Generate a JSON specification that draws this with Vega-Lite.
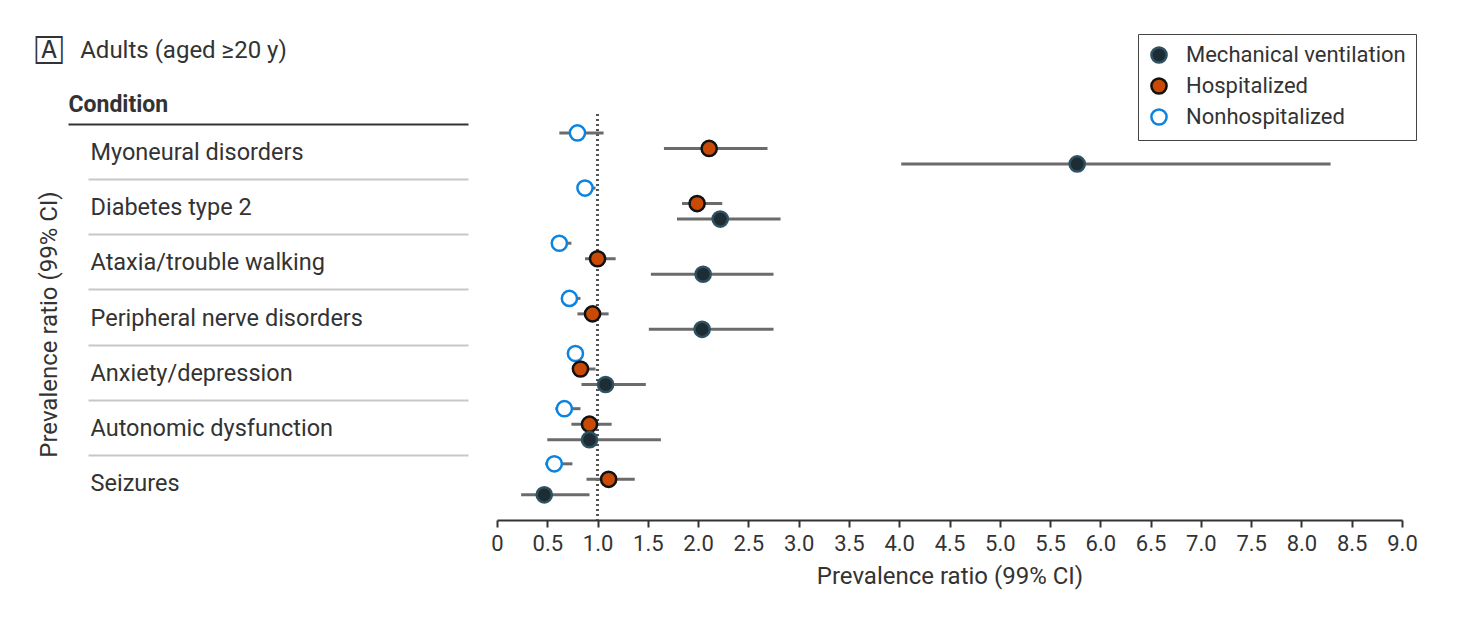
{
  "$schema": "https://vega.github.io/schema/vega-lite/v6.json",
  "autosize": {"type": "none"},
  "padding": {"left": 497, "top": 114, "right": 58, "bottom": 118},
  "width": 905,
  "height": 406,
  "title": {
    "text": "🄰\u2002 Adults (aged ≥20 y)",
    "anchor": "start",
    "frame": "group",
    "dx": -461,
    "dy": 33,
    "fontSize": 24,
    "fontWeight": "normal",
    "color": "#333333",
    "font": "Roboto"
  },
  "config": {
    "view": {"stroke": null},
    "font": "Roboto"
  },
  "data": {
    "values": [
      {"condition": "Myoneural disorders", "group": "Nonhospitalized", "est": 0.80, "lo": 0.62, "hi": 1.06},
      {"condition": "Myoneural disorders", "group": "Hospitalized", "est": 2.11, "lo": 1.66, "hi": 2.69},
      {"condition": "Myoneural disorders", "group": "Mechanical ventilation", "est": 5.77, "lo": 4.02, "hi": 8.29},
      {"condition": "Diabetes type 2", "group": "Nonhospitalized", "est": 0.875, "lo": 0.80, "hi": 0.98},
      {"condition": "Diabetes type 2", "group": "Hospitalized", "est": 1.99, "lo": 1.84, "hi": 2.24},
      {"condition": "Diabetes type 2", "group": "Mechanical ventilation", "est": 2.22, "lo": 1.79, "hi": 2.82},
      {"condition": "Ataxia/trouble walking", "group": "Nonhospitalized", "est": 0.62, "lo": 0.56, "hi": 0.74},
      {"condition": "Ataxia/trouble walking", "group": "Hospitalized", "est": 1.00, "lo": 0.875, "hi": 1.18},
      {"condition": "Ataxia/trouble walking", "group": "Mechanical ventilation", "est": 2.05, "lo": 1.53, "hi": 2.75},
      {"condition": "Peripheral nerve disorders", "group": "Nonhospitalized", "est": 0.72, "lo": 0.66, "hi": 0.83},
      {"condition": "Peripheral nerve disorders", "group": "Hospitalized", "est": 0.95, "lo": 0.80, "hi": 1.11},
      {"condition": "Peripheral nerve disorders", "group": "Mechanical ventilation", "est": 2.04, "lo": 1.51, "hi": 2.75},
      {"condition": "Anxiety/depression", "group": "Nonhospitalized", "est": 0.78, "lo": 0.72, "hi": 0.86},
      {"condition": "Anxiety/depression", "group": "Hospitalized", "est": 0.83, "lo": 0.76, "hi": 0.98},
      {"condition": "Anxiety/depression", "group": "Mechanical ventilation", "est": 1.08, "lo": 0.84, "hi": 1.48},
      {"condition": "Autonomic dysfunction", "group": "Nonhospitalized", "est": 0.67, "lo": 0.58, "hi": 0.83},
      {"condition": "Autonomic dysfunction", "group": "Hospitalized", "est": 0.92, "lo": 0.74, "hi": 1.14},
      {"condition": "Autonomic dysfunction", "group": "Mechanical ventilation", "est": 0.92, "lo": 0.50, "hi": 1.63},
      {"condition": "Seizures", "group": "Nonhospitalized", "est": 0.57, "lo": 0.48, "hi": 0.75},
      {"condition": "Seizures", "group": "Hospitalized", "est": 1.11, "lo": 0.89, "hi": 1.37},
      {"condition": "Seizures", "group": "Mechanical ventilation", "est": 0.47, "lo": 0.24, "hi": 0.92}
    ]
  },
  "resolve": {"scale": {"x": "shared"}, "axis": {"x": "independent"}},
  "layer": [
    {
      "mark": {"type": "rule", "strokeDash": [2, 3], "color": "#555555", "strokeWidth": 1.5},
      "encoding": {
        "x": {
          "datum": 1,
          "type": "quantitative",
          "scale": {"domain": [0, 9], "nice": false, "zero": false},
          "axis": {
            "orient": "top", "domain": false, "ticks": false, "labels": false, "grid": false,
            "title": "Condition", "titleX": -429, "titleY": -10, "titleAlign": "left",
            "titleBaseline": "middle", "titleAngle": 0, "titleFontWeight": "bold",
            "titleFontSize": 23, "titleColor": "#333333", "titleFont": "Roboto"
          }
        }
      }
    },
    {
      "mark": {"type": "rule", "color": "#6b6b6b", "strokeWidth": 3},
      "encoding": {
        "x": {
          "field": "lo", "type": "quantitative",
          "scale": {"domain": [0, 9], "nice": false, "zero": false},
          "axis": {
            "orient": "bottom",
            "values": [0, 0.5, 1, 1.5, 2, 2.5, 3, 3.5, 4, 4.5, 5, 5.5, 6, 6.5, 7, 7.5, 8, 8.5, 9],
            "labelExpr": "datum.value === 0 ? '0' : format(datum.value, '.1f')",
            "labelFlush": false, "labelOverlap": false,
            "grid": false, "domainColor": "#333333", "domainWidth": 2,
            "tickColor": "#333333", "tickWidth": 2, "tickSize": 7,
            "labelFontSize": 22, "labelColor": "#333333", "labelPadding": 6, "labelFont": "Roboto",
            "title": "Prevalence ratio (99% CI)", "titleFontSize": 24, "titleFontWeight": "normal",
            "titleColor": "#333333", "titlePadding": 10, "titleFont": "Roboto"
          }
        },
        "x2": {"field": "hi"},
        "y": {
          "field": "condition", "type": "nominal", "sort": null,
          "scale": {"paddingInner": 0, "paddingOuter": 0.181},
          "axis": {
            "orient": "left", "offset": 29, "domain": false, "tickBand": "extent",
            "tickSize": {"condition": {"test": "datum.index === -1", "value": 400}, "value": 380},
            "tickColor": {"condition": {"test": "datum.index === -1", "value": "#333333"}, "value": "#c8c8c8"},
            "tickOpacity": {"condition": {"test": "datum.value === 'Seizures'", "value": 0}, "value": 1},
            "tickWidth": 2,
            "labelAlign": "left", "labelBaseline": "middle", "labelPadding": -2, "labelOffset": 1,
            "labelFontSize": 23.5, "labelColor": "#333333", "labelLimit": 400, "labelFont": "Roboto",
            "title": "Prevalence ratio (99% CI)", "titleX": -419, "titleY": 210, "titleAngle": -90,
            "titleAlign": "center", "titleBaseline": "middle", "titleFontSize": 24,
            "titleFontWeight": "normal", "titleColor": "#333333", "titleFont": "Roboto"
          }
        },
        "yOffset": {
          "field": "group", "type": "nominal",
          "scale": {"domain": ["Nonhospitalized", "Hospitalized", "Mechanical ventilation"], "paddingInner": 0, "paddingOuter": 0.28, "align": 0.14}
        }
      }
    },
    {
      "mark": {"type": "point", "filled": false, "shape": "circle", "size": 230, "strokeWidth": 2.5, "opacity": 1},
      "encoding": {
        "x": {"field": "est", "type": "quantitative", "scale": {"domain": [0, 9], "nice": false, "zero": false}, "axis": null},
        "y": {"field": "condition", "type": "nominal", "sort": null},
        "yOffset": {"field": "group", "type": "nominal", "scale": {"domain": ["Nonhospitalized", "Hospitalized", "Mechanical ventilation"]}},
        "fill": {
          "field": "group", "type": "nominal",
          "scale": {"domain": ["Mechanical ventilation", "Hospitalized", "Nonhospitalized"], "range": ["#1d2d33", "#c94a04", "#ffffff"]},
          "legend": {
            "title": null, "orient": "none", "legendX": 641, "legendY": -80,
            "strokeColor": "#444444", "padding": 10, "labelFontSize": 22, "labelColor": "#333333",
            "labelFont": "Roboto", "symbolSize": 230, "symbolStrokeWidth": 2.5, "labelOffset": 16,
            "rowPadding": 5, "labelLimit": 400, "symbolType": "circle"
          }
        },
        "stroke": {
          "field": "group", "type": "nominal",
          "scale": {"domain": ["Mechanical ventilation", "Hospitalized", "Nonhospitalized"], "range": ["#2e5262", "#111111", "#0a84e0"]},
          "legend": {
            "title": null, "orient": "none", "legendX": 641, "legendY": -80,
            "strokeColor": "#444444", "padding": 10, "labelFontSize": 22, "labelColor": "#333333",
            "labelFont": "Roboto", "symbolSize": 230, "symbolStrokeWidth": 2.5, "labelOffset": 16,
            "rowPadding": 5, "labelLimit": 400, "symbolType": "circle"
          }
        }
      }
    }
  ]
}
